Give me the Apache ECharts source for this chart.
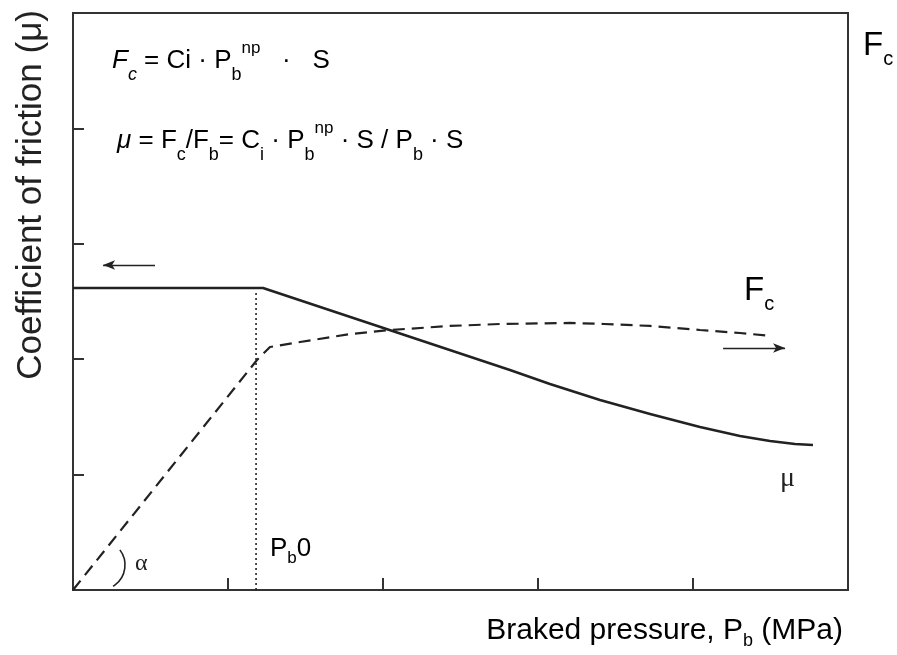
<!DOCTYPE html>
<html><head><meta charset="utf-8">
<script src="https://cdn.jsdelivr.net/npm/echarts@6/dist/echarts.min.js"></script>
<style>html,body{margin:0;padding:0;background:#fff}#c{width:897px;height:655px}</style>
</head><body><div id="c"></div>
<script>
// Braked pressure (relative units, x) and values (relative units, y)
var muX = [0, 1.226, 2.819, 3.077, 3.400, 3.723, 4.045, 4.303, 4.497, 4.658, 4.774];
var muY = [2.617, 2.617, 1.906, 1.785, 1.646, 1.525, 1.412, 1.334, 1.291, 1.265, 1.256];
var fcX = [0, 1.187, 1.271, 1.465, 1.787, 2.045, 2.432, 2.755, 3.206, 3.426, 3.723, 4.045, 4.303, 4.510];
var fcY = [0, 1.993, 2.106, 2.149, 2.218, 2.253, 2.288, 2.305, 2.314, 2.305, 2.288, 2.253, 2.227, 2.201];
var pb0X = [1.181, 1.181];
var pb0Y = [0, 2.60];
var arrowLeft = [[0.529, 2.816], [0.194, 2.816]];
var arrowRight = [[4.194, 2.097], [4.594, 2.097]];
var xTicks = [0, 1, 2, 3, 4, 5];
var yTicks = [0, 1, 2, 3, 4, 5];

function zip(a, b) { return a.map(function (v, i) { return [v, b[i]]; }); }
var INK = '#222';
var SANS = '"Liberation Sans", Arial, Helvetica, sans-serif';
var SERIF = '"Liberation Serif", "Times New Roman", serif';

var chart = echarts.init(document.getElementById('c'), null, { renderer: 'canvas' });
var rich = {
  n: { fontSize: 26, fontFamily: SANS, color: INK, lineHeight: 46, verticalAlign: 'middle' },
  it: { fontSize: 26, fontFamily: SANS, fontStyle: 'italic', color: INK, lineHeight: 46, verticalAlign: 'middle' },
  sub: { fontSize: 18, fontFamily: SANS, color: INK, lineHeight: 18, verticalAlign: 'bottom' },
  subit: { fontSize: 18, fontFamily: SANS, fontStyle: 'italic', color: INK, lineHeight: 18, verticalAlign: 'bottom' },
  sup: { fontSize: 17, fontFamily: SANS, color: INK, lineHeight: 17, verticalAlign: 'top', padding: [2, 0, 0, 0] }
};
var bigRich = {
  a: { fontSize: 33, fontFamily: SANS, color: INK, lineHeight: 46, verticalAlign: 'middle' },
  b: { fontSize: 20, fontFamily: SANS, color: INK, lineHeight: 20, verticalAlign: 'bottom' }
};
var option = {
  animation: false,
  grid: { left: 73, right: 49, top: 13, bottom: 65, show: true, borderColor: '#333', borderWidth: 2,
          backgroundColor: 'transparent', containLabel: false, outerBoundsMode: 'none' },
  xAxis: {
    type: 'value', min: xTicks[0], max: xTicks[xTicks.length - 1], interval: 1,
    axisLine: { lineStyle: { color: '#333', width: 2 } },
    axisTick: { inside: true, length: 12, lineStyle: { color: '#333', width: 2 } },
    axisLabel: { show: false }, splitLine: { show: false }
  },
  yAxis: {
    type: 'value', min: yTicks[0], max: yTicks[yTicks.length - 1], interval: 1,
    axisLine: { lineStyle: { color: '#333', width: 2 } },
    axisTick: { inside: true, length: 11, lineStyle: { color: '#333', width: 2 } },
    axisLabel: { show: false }, splitLine: { show: false }
  },
  series: [
    {
      type: 'line', name: 'mu', data: zip(muX, muY), symbol: 'none', smooth: false,
      lineStyle: { color: INK, width: 2.6, join: 'round' },
      markLine: {
        silent: true, symbol: ['none', 'arrow'], symbolSize: [7, 12], label: { show: false },
        lineStyle: { color: INK, width: 1.3, type: 'solid' },
        data: [
          [{ coord: arrowLeft[0] }, { coord: arrowLeft[1] }],
          [{ coord: arrowRight[0] }, { coord: arrowRight[1] }]
        ]
      }
    },
    {
      type: 'line', name: 'Fc', data: zip(fcX, fcY), symbol: 'none', smooth: false,
      lineStyle: { color: INK, width: 2.2, type: [12, 7] }
    },
    {
      type: 'line', name: 'Pb0', data: zip(pb0X, pb0Y), symbol: 'none',
      lineStyle: { color: INK, width: 1.6, type: [2, 3] }
    }
  ],
  graphic: [
    { type: 'text', x: 112, y: 38, style: { text: '{it|F}{subit|c}{n| = Ci · P}{sub|b}{sup|np}{n|   ·   S}', rich: rich } },
    { type: 'text', x: 117, y: 118, style: { text: '{it|μ}{n| = F}{sub|c}{n|/F}{sub|b}{n|= C}{sub|i}{n| · P}{sub|b}{sup|np}{n| · S / P}{sub|b}{n| · S}', rich: rich } },
    { type: 'text', x: 863, y: 23, style: { text: '{a|F}{b|c}', rich: bigRich } },
    { type: 'text', x: 744, y: 268, style: { text: '{a|F}{b|c}', rich: bigRich } },
    { type: 'text', x: 780, y: 465, style: { text: 'μ', font: '28px ' + SERIF, fill: INK } },
    { type: 'text', x: 135, y: 552, style: { text: 'α', font: '24px ' + SERIF, fill: INK } },
    { type: 'text', x: 270, y: 531, style: { text: '{a|P}{b|b}{a|0}', rich: {
      a: { fontSize: 26, fontFamily: SANS, color: INK, lineHeight: 36, verticalAlign: 'middle' },
      b: { fontSize: 17, fontFamily: SANS, color: INK, lineHeight: 17, verticalAlign: 'bottom' } } } },
    { type: 'text', x: 843, y: 612, style: { align: 'right', text: '{n|Braked pressure, P}{s|b}{n| (MPa)}', rich: {
      n: { fontSize: 30, fontFamily: SANS, color: INK, lineHeight: 38, verticalAlign: 'middle' },
      s: { fontSize: 18, fontFamily: SANS, color: INK, lineHeight: 18, verticalAlign: 'bottom' } } } },
    { type: 'text', x: 31, y: 10, rotation: Math.PI / 2,
      style: { text: 'Coefficient of friction (μ)', font: '35px ' + SANS, fill: INK, align: 'right', verticalAlign: 'middle' } },
    { type: 'arc', shape: { cx: 100, cy: 565, r: 25, startAngle: -0.65, endAngle: 1.02, clockwise: true },
      style: { stroke: INK, lineWidth: 1.6, fill: null } }
  ]
};
chart.setOption(option);
</script></body></html>
